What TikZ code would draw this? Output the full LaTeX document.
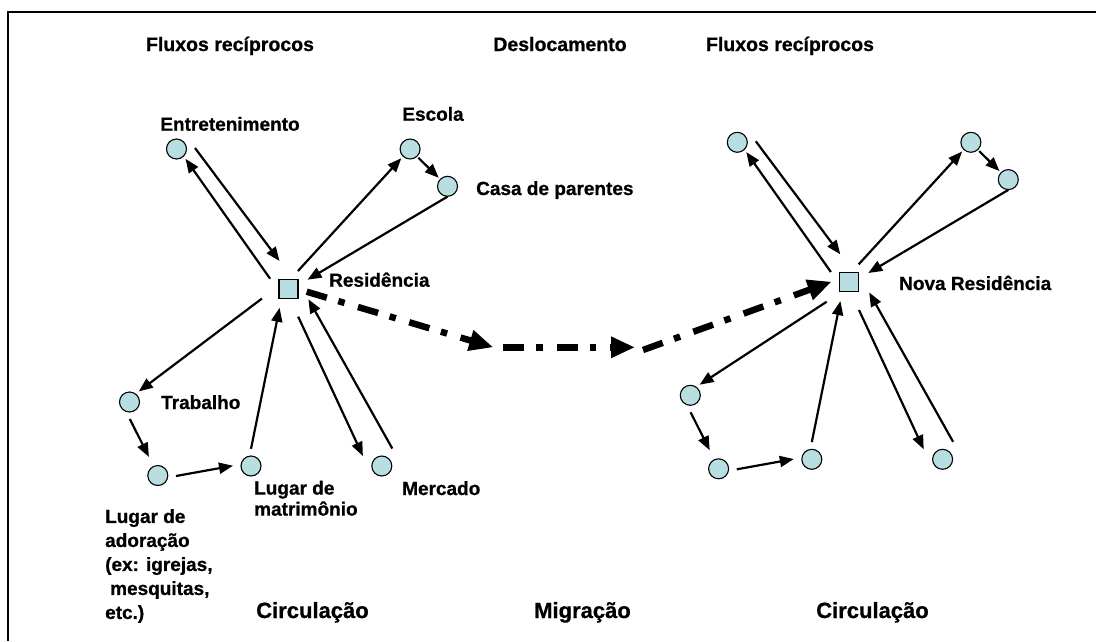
\documentclass[tikz,border=0pt]{standalone}
\usepackage{fontspec}
\setmainfont{Liberation Sans}[BoldFeatures={FakeBold=0.8}]
\usetikzlibrary{calc,arrows.meta}
\definecolor{nodefill}{RGB}{185,222,226}
\newcommand\flowcluster[3]{%
 \begin{scope}[shift={#2}]
  \node[sqnode] (#1res) at (0,0) {};
  \node[cnode] (#1ent) at (-112,-140) {};
  \node[cnode] (#1esc) at (121.6,-140) {};
  \node[cnode] (#1casa) at (159,-102.7) {};
  \node[cnode] (#1trab) at (-159,113) {};
  \node[cnode] (#1ador) at (-130.7,186.5) {};
  \node[cnode] (#1matr) at (-37.5,177) {};
  \node[cnode] (#1merc) at (93.3,177) {};
 \end{scope}
 \draw[flowarr] ($(#1res)+(-18.4,-10.3)$) -- ($(#1ent)+(9,9.8)$);
 \draw[flowarr] ($(#1ent)+(18.5,-1)$) -- ($(#1res)+(-9,-28)$);
 \draw[flowarr] ($(#1res)+(9.4,-18)$) -- ($(#1esc)+(-8.8,9.2)$);
 \draw[flowarr] ($(#1esc)+(8.3,8.8)$) -- ($(#1casa)+(-8.8,-8.5)$);
 \draw[flowarr] ($(#1casa)+(0,10.3)$) -- ($(#1res)+(19,-9.3)$);
 \draw[flowarr] ($(#1res)+#3$) -- ($(#1trab)+(9.3,-10.6)$);
 \draw[flowarr] ($(#1trab)+(0.3,17)$) -- ($(#1ador)+(-8.9,-18.6)$);
 \draw[flowarr] ($(#1ador)+(18.2,0.5)$) -- ($(#1matr)+(-18,-0.3)$);
 \draw[flowarr] ($(#1matr)+(0,-17.2)$) -- ($(#1res)+(-8.9,18.8)$);
 \draw[flowarr] ($(#1res)+(9.7,27.7)$) -- ($(#1merc)+(-18.9,-10)$);
 \draw[flowarr] ($(#1merc)+(10.5,-17.5)$) -- ($(#1res)+(19.9,10.2)$);
}
\begin{document}
\begin{tikzpicture}[x=1pt,y=-1pt,
  cnode/.style={circle,draw=black,line width=1.1pt,fill=nodefill,minimum size=20pt,inner sep=0pt},
  sqnode/.style={rectangle,draw=black,line width=1.1pt,fill=nodefill,minimum size=19pt,inner sep=0pt},
  flowarr/.style={line width=2.2pt,-{Triangle[length=14pt,width=11pt]}},
  migr/.style={line width=6.5pt,dash pattern=on 21pt off 12pt on 6.5pt off 14pt,-{Triangle[length=24pt,width=20pt]}},
  lab/.style={font=\fontsize{19}{21}\selectfont\bfseries,inner sep=0pt},
  ttl/.style={font=\fontsize{22}{26}\selectfont\bfseries,inner sep=0pt,anchor=base},
  ttltop/.style={ttl,font=\fontsize{19.5}{24}\selectfont\bfseries}]
\useasboundingbox (0,0) rectangle (1096,641);
\coordinate (fbl) at (8,641);
\coordinate (ftl) at (8,12);
\coordinate (ftr) at (1096,12);
\draw[line width=1.7pt] (fbl) -- (ftl) -- (ftr);

\flowcluster{L}{(288.5,289)}{(-26.5,9.5)}
\flowcluster{R}{(849.3,282.3)}{(-22.6,19.4)}

\coordinate (m1) at (493.3,347.3);
\coordinate (m2) at (635,347.3);
\draw[migr] ($(Lres)+(18.2,2.7)$) -- (m1);
\draw[migr] ($(m1)+(10,0)$) -- (m2);
\draw[migr] ($(m2)+(8,2.7)$) -- ($(Rres)+(-17.6,-0.6)$);

% titles
\node[ttltop] (t1) at (230,51) {Fluxos recíprocos};
\node[ttltop] (t2) at (560,51) {Deslocamento};
\node[ttltop] (t3) at (790,51) {Fluxos recíprocos};
\node[ttl] (b1) at (312.5,618) {Circulação};
\node[ttl] (b2) at (582.5,618) {Migração};
\node[ttl] (b3) at (872.5,618) {Circulação};

% labels
\node[lab,anchor=base] (lent) at (230,130.7) {Entretenimento};
\node[lab,anchor=base] (lesc) at (433,120.7) {Escola};
\node[lab,anchor=base west] (lcasa) at (476,195) {Casa de parentes};
\node[lab,anchor=base west] (lres) at (329,286.7) {Residência};
\node[lab,anchor=base west] (ltrab) at (161,409) {Trabalho};
\node[lab,anchor=north west,align=left] (lmatr) at (254,480.6) {Lugar de\\matrimônio};
\node[lab,anchor=base west] (lmerc) at (402,495) {Mercado};
\node[lab,anchor=north west,align=left,font=\fontsize{19}{24}\selectfont\bfseries] (lador) at (105,509) {Lugar de\\adoração\\(ex: igrejas,\\\hspace*{5pt}mesquitas,\\etc.)};
\node[lab,anchor=base west] (lnres) at (899,290) {Nova Residência};
\end{tikzpicture}
\end{document}
